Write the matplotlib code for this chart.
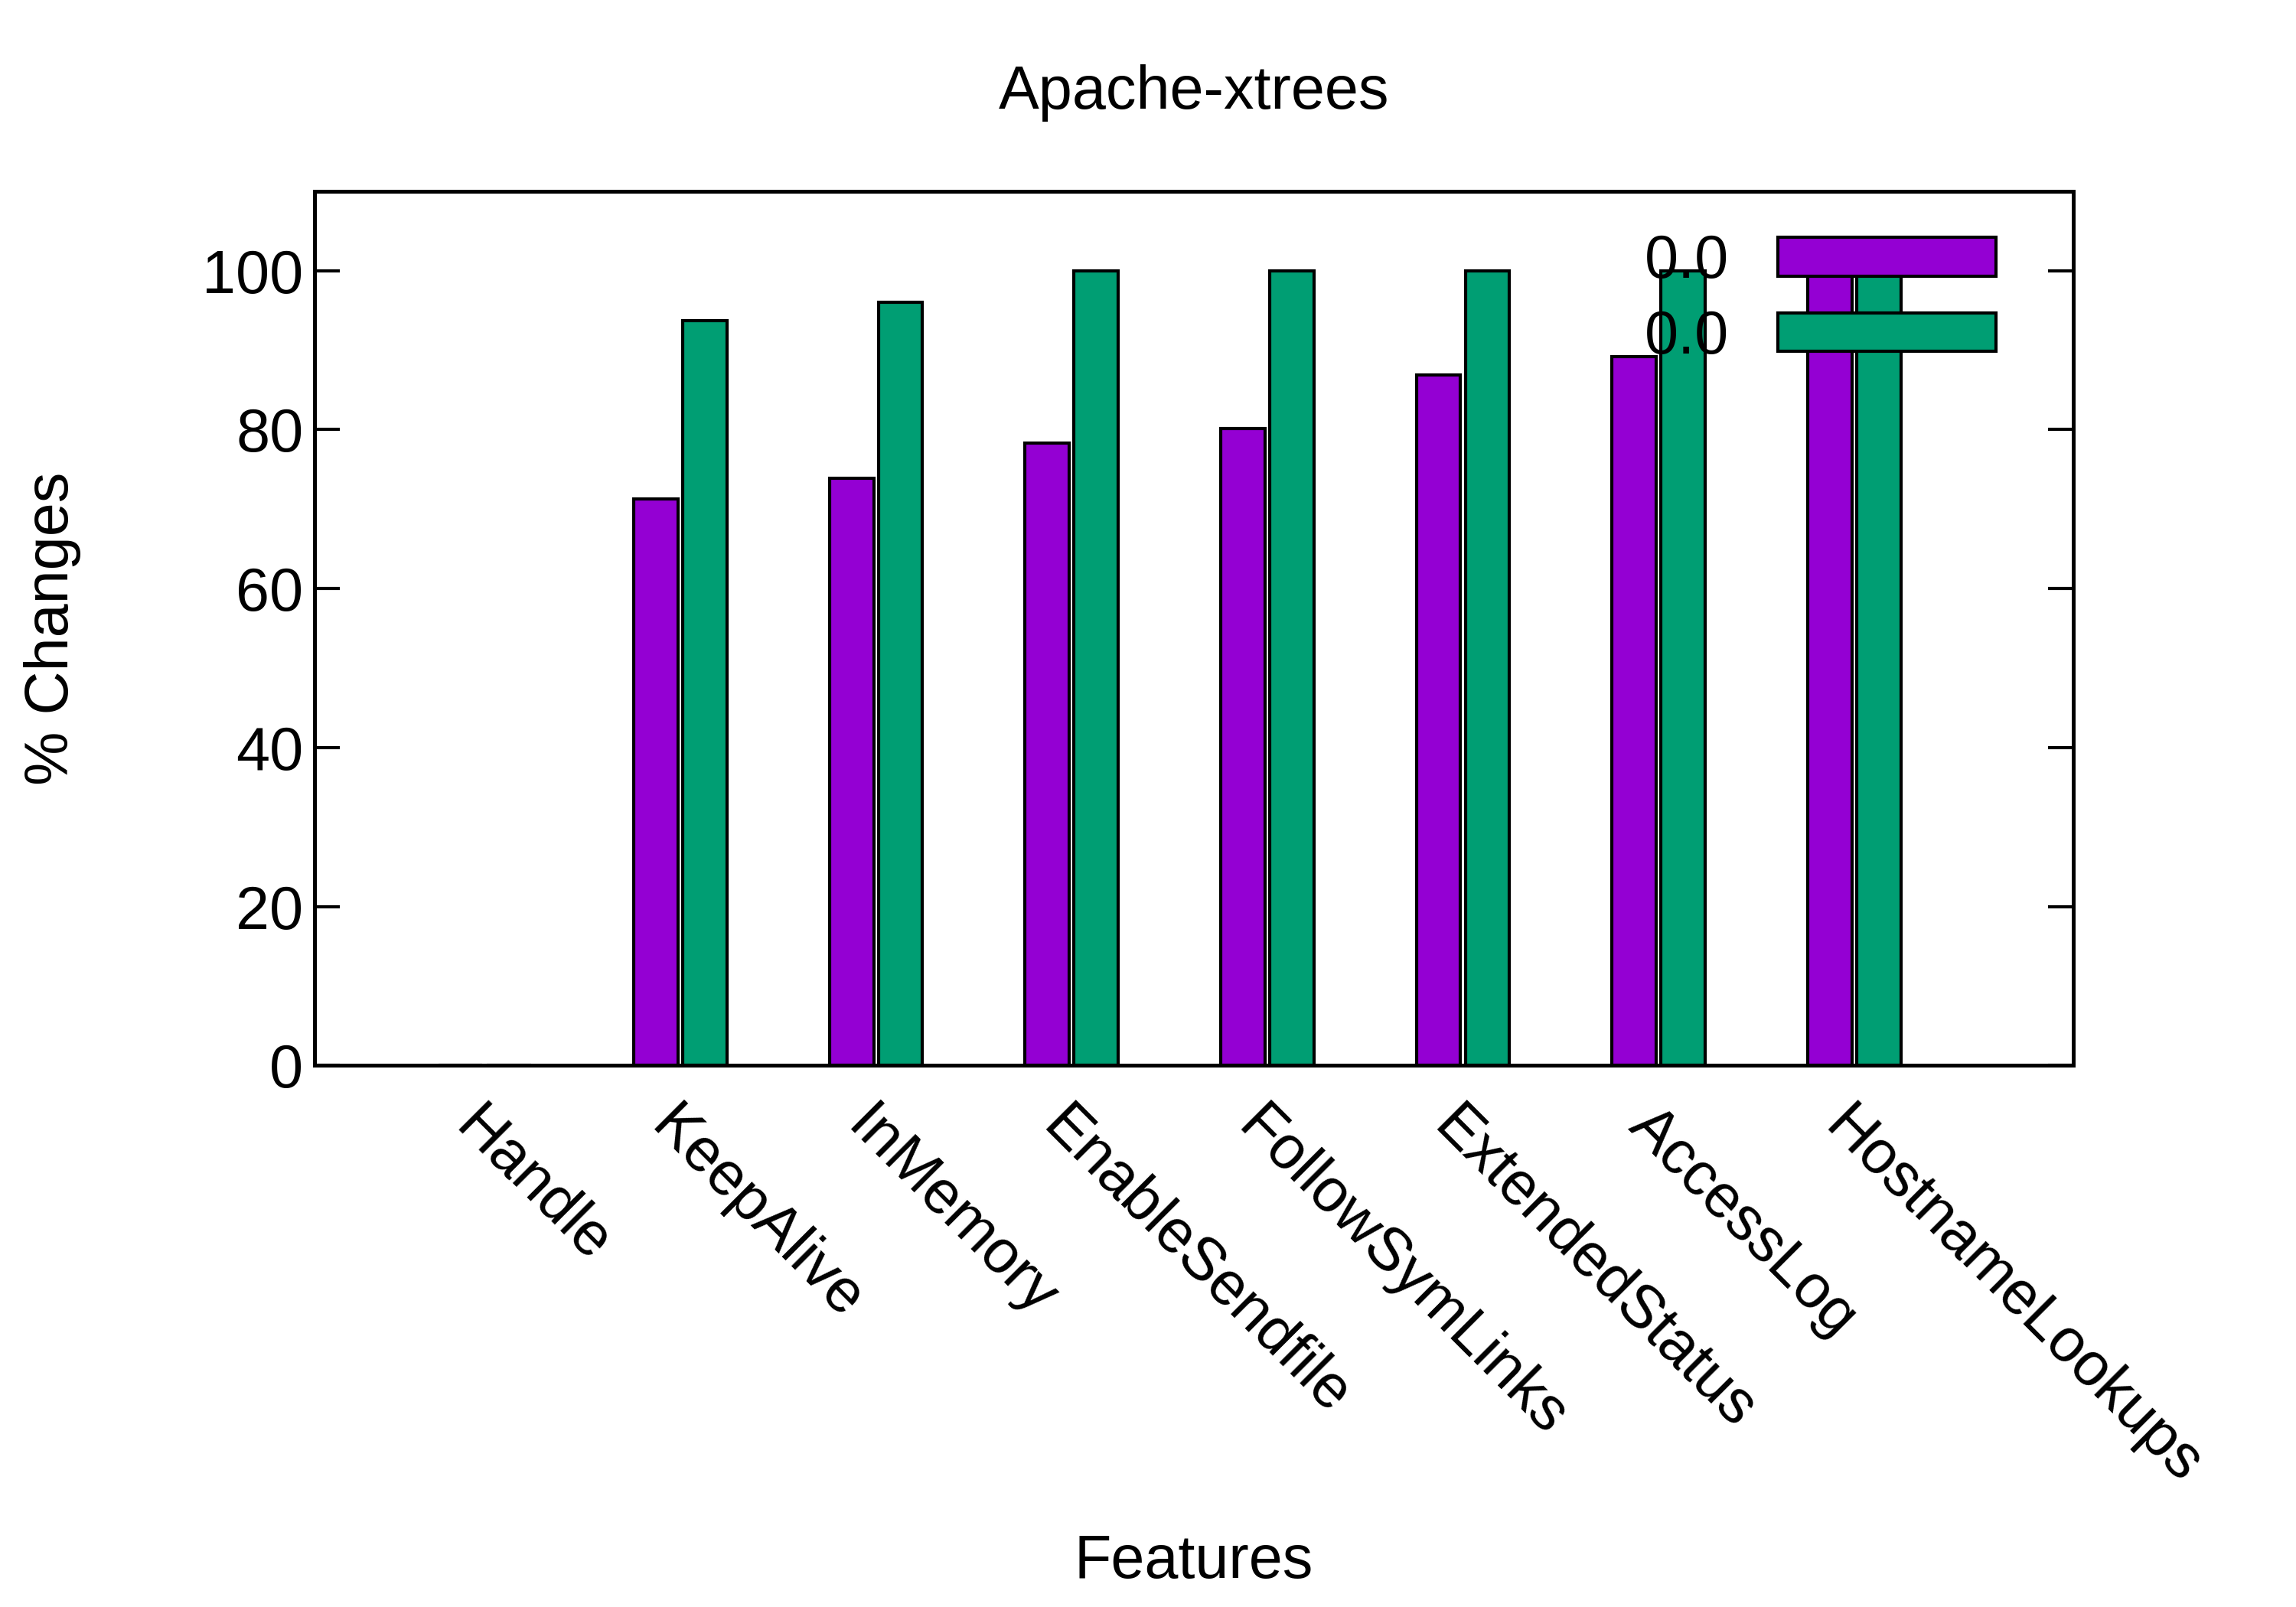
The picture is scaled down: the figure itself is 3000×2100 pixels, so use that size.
import matplotlib
matplotlib.use("Agg")
import matplotlib.pyplot as plt
import numpy as np

features = ["Handle", "KeepAlive", "InMemory", "EnableSendfile", "FollowSymLinks",
            "ExtendedStatus", "AccessLog", "HostnameLookups"]
series1 = [0, 71.3, 73.9, 78.3, 80.1, 86.9, 89.2, 100]
series2 = [0, 93.7, 96.0, 100, 100, 100, 100, 100]
labels = ["0.0", "0.0"]

plt.rcParams['font.family'] = ['Liberation Sans', 'DejaVu Sans']
fig = plt.figure(figsize=(10, 7), dpi=300)
ax = fig.add_axes([0.137, 0.337, 0.766, 0.544])
x = np.arange(len(features))
w = 0.226
ax.bar(x - 0.125, series1, w, color="#9400d3", edgecolor="black", linewidth=1, label=labels[0])
ax.bar(x + 0.125, series2, w, color="#009e73", edgecolor="black", linewidth=1, label=labels[1])
ax.set_xlim(-0.87, 8.12)
ax.set_ylim(0, 110)
ax.set_yticks([0, 20, 40, 60, 80, 100])
ax.tick_params(axis='y', direction='in', right=True, labelsize=19, length=8, width=1)
ax.set_xticks(x)
ax.set_xticklabels(features, rotation=-45, ha='left', va='top', rotation_mode='anchor', fontsize=19)
ax.tick_params(axis='x', length=0, pad=10)
for s in ax.spines.values():
    s.set_linewidth(1.2)
ax.set_ylabel("% Changes", fontsize=19, labelpad=38)
ax.set_xlabel("Features", fontsize=19, labelpad=12)
ax.set_title("Apache-xtrees", fontsize=19, pad=26)
ax.legend(loc='upper right', frameon=False, markerfirst=False, fontsize=19,
          handlelength=3.6, handleheight=0.6, labelspacing=0.3,
          bbox_to_anchor=(0.98, 1.0), borderaxespad=0.3)
fig.savefig("out.png", dpi=300)
